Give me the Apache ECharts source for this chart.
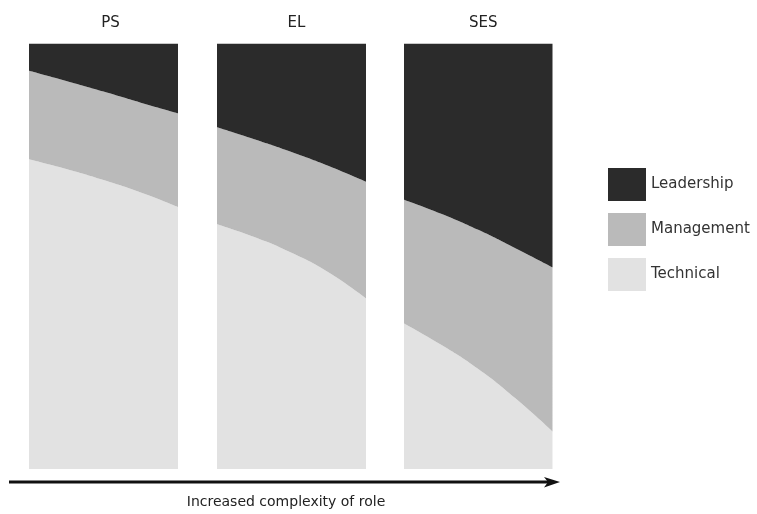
<!DOCTYPE html>
<html>
<head>
<meta charset="utf-8">
<script src="https://cdn.jsdelivr.net/npm/echarts@6/dist/echarts.min.js"></script>
<style>html,body{margin:0;padding:0;background:#fff;}#c{width:757px;height:514px;}</style>
</head>
<body>
<div id="c"></div>
<script>
// Panels (role levels) and the three capability shares (percent of panel height)
var panels = ['PS', 'EL', 'SES'];
var positions = ['0', '0.25', '0.5', '0.75', '1'];  // sample points across each panel
var technical = [
  [72.8, 70.5, 67.9, 65.0, 61.6],
  [57.5, 54.5, 50.8, 46.2, 40.1],
  [34.2, 29.2, 23.5, 16.6, 8.8]
];
var management = [
  [20.8, 20.7, 20.8, 21.1, 22.0],
  [22.8, 23.0, 23.7, 25.0, 27.4],
  [29.1, 30.8, 32.7, 35.3, 38.6]
];
var leadership = [
  [6.4, 8.8, 11.3, 13.9, 16.4],
  [19.7, 22.5, 25.5, 28.8, 32.5],
  [36.7, 40.0, 43.8, 48.1, 52.6]
];
var seriesNames = ['Leadership', 'Management', 'Technical'];
var colors = {Leadership: '#2b2b2b', Management: '#bababa', Technical: '#e2e2e2'};
var axisTitle = 'Increased complexity of role';

var gridLefts = [29, 217, 404];
var gridWidths = [149, 149, 148.5];
var font = 'DejaVu Sans';

var grids = [], xAxes = [], yAxes = [], series = [], titles = [];
panels.forEach(function (p, i) {
  grids.push({left: gridLefts[i], width: gridWidths[i], top: 43.5, height: 425.5});
  xAxes.push({type: 'category', gridIndex: i, data: positions, boundaryGap: false, show: false});
  yAxes.push({type: 'value', gridIndex: i, min: 0, max: 100, show: false});
  titles.push({
    text: p, left: gridLefts[i] + gridWidths[i] / 2 + (i === 0 ? 2 : 0), top: 11, textAlign: 'center',
    textStyle: {fontFamily: font, fontSize: 15, fontWeight: 'normal', color: '#222'}
  });
  var layers = [['Technical', technical[i]], ['Management', management[i]], ['Leadership', leadership[i]]];
  layers.forEach(function (l) {
    series.push({
      name: l[0], type: 'line', xAxisIndex: i, yAxisIndex: i, stack: 'p' + i,
      smooth: 0.5, showSymbol: false, silent: true, clip: true,
      lineStyle: {width: 0}, areaStyle: {color: colors[l[0]], opacity: 1},
      itemStyle: {color: colors[l[0]]},
      data: l[1]
    });
  });
});

var chart = echarts.init(document.getElementById('c'));
chart.setOption({
  animation: false,
  backgroundColor: '#fff',
  title: titles,
  grid: grids,
  xAxis: xAxes,
  yAxis: yAxes,
  legend: {
    data: seriesNames, orient: 'vertical', left: 603, top: 163,
    itemWidth: 38, itemHeight: 33, itemGap: 12, icon: 'rect',
    selectedMode: false,
    textStyle: {fontFamily: font, fontSize: 15, color: '#333', padding: [0, 0, 0, 0]}
  },
  graphic: [
    {type: 'line', shape: {x1: 9, y1: 482, x2: 552, y2: 482}, style: {stroke: '#111', lineWidth: 3}},
    {type: 'polygon', shape: {points: [[544, 477], [560, 482], [544, 487.5], [548, 482]]}, style: {fill: '#111'}},
    {type: 'text', x: 286, y: 502, style: {text: axisTitle, fontFamily: font, fontSize: 14, fill: '#222', align: 'center', verticalAlign: 'middle'}}
  ],
  series: series
});
</script>
</body>
</html>
